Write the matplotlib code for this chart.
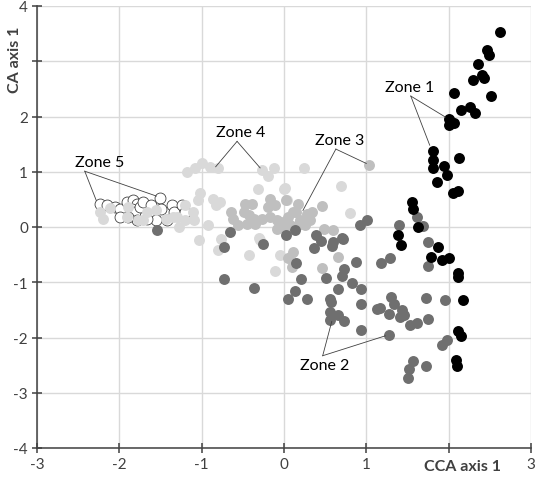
import matplotlib
matplotlib.use("Agg")
import matplotlib.pyplot as plt

plt.rcParams['font.family'] = ['Lato', 'DejaVu Sans']
plt.rcParams['axes.unicode_minus'] = False

# ---- data ----
zone1_x = [2.62, 2.47, 2.49, 2.36, 2.40, 2.43, 2.30, 2.07, 2.52, 2.15, 2.26, 2.32, 2.00, 2.06, 2.00, 2.02,
           1.81, 1.81, 1.81, 1.94, 1.98, 2.12, 1.86, 2.05, 2.11, 1.56, 1.57, 1.63, 1.39, 1.42, 1.87, 1.79,
           1.92, 2.01, 2.11, 2.11, 2.17, 2.11, 2.15, 2.09, 2.10]
zone1_y = [3.53, 3.20, 3.11, 2.95, 2.75, 2.69, 2.66, 2.42, 2.38, 2.11, 2.17, 2.07, 1.96, 1.89, 1.84, 1.92,
           1.38, 1.21, 1.06, 1.11, 0.94, 1.24, 0.81, 0.62, 0.66, 0.46, 0.32, 0.00, -0.15, -0.33, -0.36, -0.54,
           -0.60, -0.56, -0.83, -0.90, -1.32, -1.89, -1.97, -2.40, -2.52]

zone2_x = [-1.54, -0.66, -0.73, -0.73, -0.36, -0.25, 0.03, 0.13, 0.39, 0.45, 0.60, 0.70, 0.36, 0.58, 0.72,
           0.92, 1.01, 1.40, 1.62, 1.69, 0.14, 0.88, 1.18, 1.29, 1.75, 1.75, 0.73, 0.71, 0.21, 0.51,
           0.13, 0.05, 0.28, 0.65, 0.83, 0.94, 0.56, 0.57, 0.94, 0.56, 0.65, 0.56, 0.73, 0.93, 1.13,
           1.17, 1.30, 1.33, 1.28, 1.43, 1.46, 1.41, 1.53, 1.62, 1.72, 1.75, 1.96, 1.28, 1.92, 1.98,
           1.57, 1.52, 1.50, 1.73]
zone2_y = [-0.05, -0.09, -0.37, -0.95, -1.10, -0.31, -0.14, -0.06, -0.14, -0.26, -0.27, -0.20, -0.38, -0.35, -0.22,
           0.04, 0.12, 0.04, 0.18, 0.01, -0.65, -0.63, -0.65, -0.56, -0.27, -0.71, -0.76, -0.88, -0.95, -0.92,
           -1.15, -1.30, -1.30, -1.13, -1.01, -1.12, -1.30, -1.36, -1.40, -1.54, -1.59, -1.69, -1.71, -1.86, -1.48,
           -1.46, -1.27, -1.39, -1.57, -1.51, -1.60, -1.63, -1.77, -1.73, -1.28, -1.66, -1.33, -1.95, -2.14, -2.05,
           -2.43, -2.57, -2.73, -2.52]

zone3_x = [-0.47, -0.39, -0.49, -0.43, -0.37, -0.45, -0.56, -0.27, -0.17, -0.19, -0.11, -0.17, -0.09, -0.01,
           0.07, -0.35, -0.09, 0.01, 0.15, 0.17, 0.03, 0.17, 0.05, 0.11, 0.28, 0.34, 0.46, 0.19, 0.32,
           0.26, 0.48, 0.60, 1.03, -0.64, -0.62, 0.11, 0.10, 0.05, 0.46, 0.66]
zone3_y = [0.42, 0.42, 0.27, 0.21, 0.15, 0.06, 0.03, 0.15, 0.51, 0.36, 0.39, 0.18, 0.12, 0.09,
           0.03, 0.06, -0.03, -0.03, 0.27, 0.03, 0.48, 0.42, 0.18, 0.27, 0.24, 0.27, 0.38, 0.12, 0.12,
           0.03, -0.03, -0.06, 1.13, 0.27, 0.15, -0.45, -0.72, -0.56, -0.74, -0.54]

zone4_x = [-1.00, -1.08, -1.18, -0.90, -0.80, -0.27, -0.19, -0.12, -0.31, -1.02, -1.04, -0.86, -0.78, -0.83,
           -1.20, -1.10, -1.09, -2.20, -2.24, -2.11, -1.67, -1.55, -1.71, -1.35, -1.20, -0.92, -1.89, -1.91,
           -1.77, -1.43, -1.30, -1.28, -1.03, -0.76, -0.30, -0.80, -0.42, -0.11, -0.05, -0.29, 0.00, 0.04,
           0.01, 0.24, 0.69, 0.80, 0.07]
zone4_y = [1.16, 1.06, 1.00, 1.09, 1.07, 1.04, 0.93, 1.07, 0.69, 0.62, 0.48, 0.51, 0.46, 0.40,
           0.39, 0.27, 0.12, 0.15, 0.27, 0.34, 0.27, 0.30, 0.12, 0.18, 0.12, 0.03, 0.36, 0.18,
           0.12, 0.15, 0.18, 0.00, -0.24, -0.21, -0.20, -0.41, -0.50, -0.80, -0.50, -0.24, 0.69, 0.48,
           0.71, 1.06, 0.74, 0.25, -0.54]

zone5_x = [-2.24, -2.15, -2.05, -1.99, -1.91, -1.83, -1.79, -1.85, -1.81, -1.75, -1.71, -1.61, -1.51, -1.49,
           -1.36, -1.34, -1.42, -1.55, -1.67, -1.79, -1.89, -1.99, -1.24, -1.20]
zone5_y = [0.42, 0.39, 0.36, 0.33, 0.45, 0.48, 0.42, 0.33, 0.27, 0.36, 0.45, 0.39, 0.52, 0.33,
           0.39, 0.27, 0.12, 0.12, 0.15, 0.12, 0.18, 0.18, 0.39, 0.27]

x_ticks = [-3, -2, -1, 0, 1, 2, 3]
x_tick_labels = ["-3", "-2", "-1", "0", "1", "", "3"]
y_ticks = [-4, -3, -2, -1, 0, 1, 2, 3, 4]
y_tick_labels = ["-4", "-3", "-2", "-1", "0", "1", "2", "", "4"]

# annotations: label, text position, line origin, targets
annotations = [
    ("Zone 1", (1.52, 2.54), (1.54, 2.37), [(1.96, 1.99), (1.77, 1.48)]),
    ("Zone 2", (0.49, -2.49), (0.47, -2.33), [(0.58, -1.71), (1.23, -1.97)]),
    ("Zone 3", (0.68, 1.57), (0.63, 1.41), [(1.00, 1.15), (0.23, 0.30)]),
    ("Zone 4", (-0.53, 1.72), (-0.57, 1.55), [(-0.83, 1.09), (-0.29, 1.07)]),
    ("Zone 5", (-2.24, 1.18), (-2.42, 1.01), [(-2.28, 0.48), (-1.55, 0.56)]),
]

fig = plt.figure(figsize=(5.35, 4.81), dpi=100)
ax = fig.add_axes([37 / 535, 1 - 449 / 481, (531 - 37) / 535, (449 - 7) / 481])

ax.set_xlim(-3, 3)
ax.set_ylim(-4, 4)
ax.set_xticks(x_ticks, x_tick_labels)
ax.set_yticks(y_ticks, y_tick_labels)
ax.grid(True, color='#d9d9d9', linewidth=1.0, zorder=0)
ax.set_axisbelow(True)
for s in ['top', 'right']:
    ax.spines[s].set_visible(False)
for s in ['left', 'bottom']:
    ax.spines[s].set_color('#404040')
    ax.spines[s].set_linewidth(1.1)
ax.tick_params(direction='inout', length=7, width=1.1, color='#404040',
               labelsize=11, labelcolor='#404040', pad=3)

ms = 62
ax.scatter(zone5_x, zone5_y, s=ms, facecolor='white', edgecolor='#404040', linewidth=0.6, zorder=3)
ax.scatter(zone4_x, zone4_y, s=ms, color='#d9d9d9', linewidth=0, zorder=3)
ax.scatter(zone3_x, zone3_y, s=ms, color='#bfbfbf', linewidth=0, zorder=3)
ax.scatter(zone2_x, zone2_y, s=ms, color='#6f6f6f', linewidth=0, zorder=3)
ax.scatter(zone1_x, zone1_y, s=ms, color='black', linewidth=0, zorder=3)

for label, tpos, origin, targets in annotations:
    ax.text(tpos[0], tpos[1], label, ha='center', va='center', fontsize=11.5, color='black', zorder=5)
    for tx, ty in targets:
        ax.plot([origin[0], tx], [origin[1], ty], color='#404040', linewidth=0.6, zorder=4)

fig.text(15 / 535, 1 - 60 / 481, "CA axis 1", rotation=90, ha='center', va='center',
         fontsize=11.5, fontweight='bold', color='#404040')
fig.text(463 / 535, 1 - 467 / 481, "CCA axis 1", ha='center', va='center',
         fontsize=11.5, fontweight='bold', color='#404040')

fig.savefig("out.png", dpi=100)
